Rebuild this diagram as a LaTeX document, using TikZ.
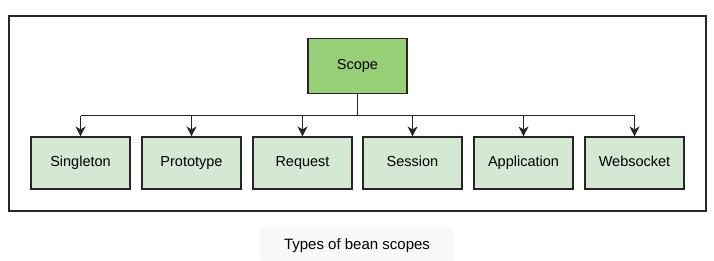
\documentclass[tikz,border=0pt]{standalone}
\usepackage{fontspec}
\setmainfont{Liberation Sans}
\usetikzlibrary{arrows.meta}
\definecolor{rootfill}{HTML}{97D077}
\definecolor{leaffill}{HTML}{D5E8D4}
\definecolor{edgeclr}{HTML}{262626}
\definecolor{capfill}{HTML}{F7F8FA}
\begin{document}
\begin{tikzpicture}[x=1pt,y=-1pt,
  box/.style={draw=edgeclr,line width=1.1pt,minimum width=99pt,minimum height=52pt,
    inner sep=0pt,text height=10pt,text depth=3pt,
    font=\fontsize{14.5}{16}\selectfont,text=black},
  rootbox/.style={box,fill=rootfill,minimum height=55pt},
  leafbox/.style={box,fill=leaffill},
  link/.style={draw=edgeclr,line width=1.1pt},
  arrowlink/.style={link,-{Stealth[length=10pt,width=10pt,inset=3pt]}}]
\useasboundingbox (0,0) rectangle (714,260);
% outer frame
\draw[draw=edgeclr,line width=1.1pt] (9,16) rectangle (706,211);
% caption
\node[fill=capfill,rounded corners=3pt,minimum width=194pt,minimum height=34pt,
  text height=11pt,text depth=3pt,
  font=\fontsize{15}{18}\selectfont] (caption) at (357,245) {Types of bean scopes};
% root
\node[rootbox] (scope) at (357.5,66) {Scope};
% leaves
\node[leafbox] (singleton) at (80.5,163) {Singleton};
\node[leafbox] (prototype) at (191.5,163) {Prototype};
\node[leafbox] (request) at (302.5,163) {Request};
\node[leafbox] (session) at (412.5,163) {Session};
\node[leafbox] (application) at (523.5,163) {Application};
\node[leafbox] (websocket) at (634.5,163) {Websocket};
% bus
\coordinate (bus) at (357.5,115.5);
\draw[link] (scope.south) -- (bus);
\draw[link] (singleton.north |- bus) -- (websocket.north |- bus);
\foreach \n in {singleton,prototype,request,session,application,websocket}
  \draw[arrowlink] (\n.north |- bus) -- (\n.north);
\end{tikzpicture}
\end{document}
